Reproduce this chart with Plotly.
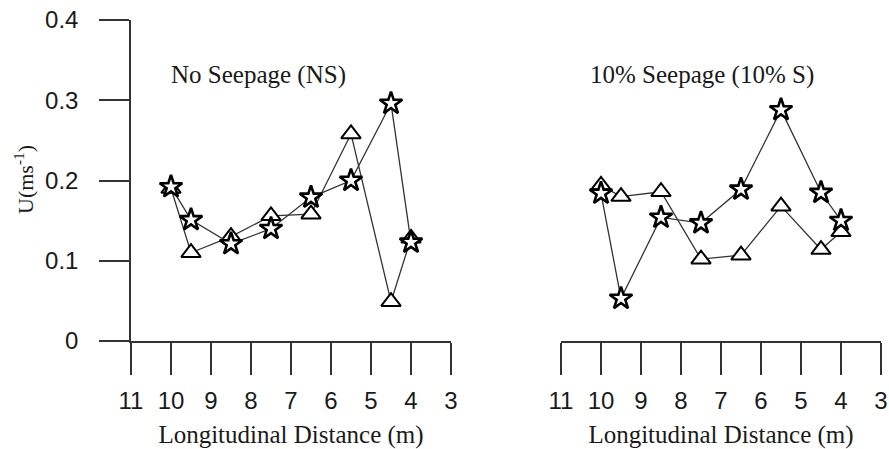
import plotly.graph_objects as go

# Longitudinal positions of the measuring stations (m)
distance = [10, 9.5, 8.5, 7.5, 6.5, 5.5, 4.5, 4]

# Mean velocity U (m/s), no seepage
ns_triangle = [0.190, 0.110, 0.130, 0.156, 0.158, 0.258, 0.049, 0.128]
ns_star = [0.192, 0.151, 0.121, 0.140, 0.179, 0.200, 0.296, 0.123]

# Mean velocity U (m/s), 10% seepage
s10_triangle = [0.194, 0.180, 0.186, 0.102, 0.107, 0.168, 0.114, 0.136]
s10_star = [0.184, 0.053, 0.154, 0.147, 0.189, 0.288, 0.185, 0.150]

x_ticks = [11, 10, 9, 8, 7, 6, 5, 4, 3]
y_ticks = [0, 0.1, 0.2, 0.3, 0.4]

panel_titles = ["No Seepage (NS)", "10% Seepage (10% S)"]
x_title = "Longitudinal Distance (m)"
y_title = "U(ms<sup>-1</sup>)"

W, H = 889, 449
INK = "#333333"
TEXT = "#1a1a1a"
serif = "Liberation Serif, Times New Roman, serif"
sans = "Liberation Sans, Arial, sans-serif"

fig = go.Figure()


def add_series(xs, ys, symbol, size, lw, xa, ya):
    fig.add_trace(go.Scatter(
        x=xs, y=ys, mode="lines+markers",
        line=dict(color=INK, width=1.3),
        marker=dict(symbol=symbol, size=size, color="white",
                    line=dict(color="black", width=lw)),
        xaxis=xa, yaxis=ya, showlegend=False, cliponaxis=False,
    ))


add_series(distance, ns_triangle, "triangle-up", 17, 2, "x", "y")
add_series(distance, ns_star, "star", 17, 2.6, "x", "y")
add_series(distance, s10_triangle, "triangle-up", 17, 2, "x2", "y2")
add_series(distance, s10_star, "star", 17, 2.6, "x2", "y2")

y_dom = [108 / H, 429 / H]

xaxis_common = dict(
    range=[11, 3], tickmode="array", tickvals=x_ticks,
    showline=True, linecolor=INK, linewidth=1.5,
    ticks="outside", ticklen=32, tickwidth=1.5, tickcolor=INK,
    ticklabelstandoff=5, automargin=False,
    tickfont=dict(family=sans, size=24, color=TEXT),
    showgrid=False, zeroline=False,
    title=dict(text=x_title, font=dict(family=serif, size=25, color=TEXT), standoff=13),
)

fig.update_layout(
    width=W, height=H,
    margin=dict(l=0, r=0, t=0, b=0, autoexpand=False),
    paper_bgcolor="white", plot_bgcolor="white",
    xaxis=dict(domain=[131 / W, 451 / W], anchor="y", **xaxis_common),
    xaxis2=dict(domain=[561 / W, 881 / W], anchor="y2", **xaxis_common),
    yaxis=dict(
        domain=y_dom, range=[0, 0.4], tickmode="array", tickvals=y_ticks,
        showline=True, linecolor=INK, linewidth=1.5,
        ticks="outside", ticklen=30, tickwidth=1.5, tickcolor=INK,
        ticklabelstandoff=16, automargin=False,
        tickfont=dict(family=sans, size=24, color=TEXT),
        showgrid=False, zeroline=False, anchor="x",
    ),
    yaxis2=dict(domain=y_dom, range=[0, 0.4], visible=False, anchor="x2",
                automargin=False),
    annotations=[
        dict(text=panel_titles[0], x=169 / W, y=(H - 75) / H, xref="paper", yref="paper",
             xanchor="left", yanchor="middle", showarrow=False,
             font=dict(family=serif, size=25, color=TEXT)),
        dict(text=panel_titles[1], x=588 / W, y=(H - 75) / H, xref="paper", yref="paper",
             xanchor="left", yanchor="middle", showarrow=False,
             font=dict(family=serif, size=25, color=TEXT)),
        dict(text=y_title, x=24 / W, y=(H - 180) / H, xref="paper", yref="paper",
             xanchor="center", yanchor="middle", textangle=-90, showarrow=False,
             font=dict(family=serif, size=22, color=TEXT)),
    ],
)

fig.write_html("out.html")
